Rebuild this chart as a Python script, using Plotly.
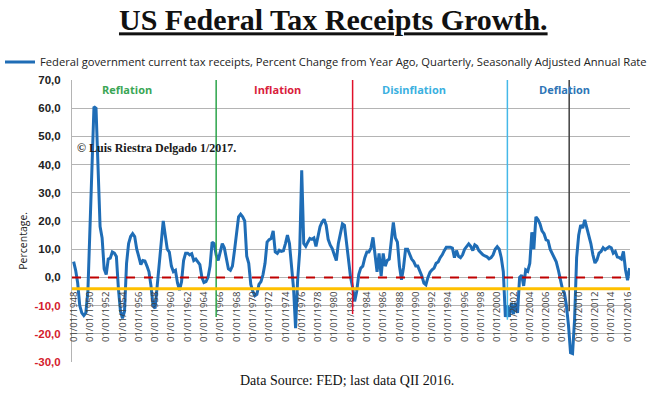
import pandas as pd
import plotly.graph_objects as go

# Quarterly values, 1948Q1 .. 2016Q2 (percent change from year ago)
start_date = "1948-01-01"
values = [
    5.6, 2.5, -2.0, -10.0,      # 1948
    -12.6, -13.5, -12.6, -5.0,  # 1949
    17.0, 40.0, 60.5, 60.0,     # 1950
    35.0, 18.0, 14.0, 3.0,      # 1951
    1.0, 6.5, 6.8, 9.0,         # 1952
    8.6, 7.4, -4.0, -12.0,      # 1953
    -14.5, -12.0, 5.0, 12.0,    # 1954
    14.5, 15.5, 14.5, 10.0,     # 1955
    7.4, 4.5, 6.0, 5.8,         # 1956
    4.0, 2.0, -3.0, -10.0,      # 1957
    -11.0, -3.0, 4.0, 14.5,     # 1958
    20.0, 15.0, 10.0, 9.0,      # 1959
    4.0, 2.0, 2.5, -2.0,        # 1960
    -4.5, -1.5, 6.0, 8.6,       # 1961
    8.6, 8.0, 8.4, 6.0,         # 1962
    6.5, 5.5, 4.5, 0.0,         # 1963
    -1.8, -1.5, 0.0, 4.0,       # 1964
    12.5, 12.0, 8.0, 6.0,       # 1965
    9.6, 12.0, 10.5, 7.0,       # 1966
    3.0, 2.5, 4.0, 9.5,         # 1967
    16.0, 21.5, 22.4, 21.5,     # 1968
    20.0, 7.5, 5.0, -2.5,       # 1969
    -5.0, -6.5, -6.0, -2.5,     # 1970
    -1.5, 1.0, 5.0, 12.5,       # 1971
    13.4, 13.8, 16.5, 9.0,      # 1972
    8.5, 9.6, 9.2, 9.4,         # 1973
    12.0, 15.0, 12.0, 5.0,      # 1974
    -4.0, -18.0, -1.0, 9.0,     # 1975
    38.0, 12.0, 11.0, 12.5,     # 1976
    13.8, 13.5, 14.0, 11.0,     # 1977
    14.0, 18.0, 19.6, 20.6,     # 1978
    18.5, 13.5, 11.5, 10.2,     # 1979
    8.0, 6.0, 12.0, 16.0,       # 1980
    19.0, 18.5, 12.0, 5.0,      # 1981
    0.0, -3.5, -8.5, -5.0,      # 1982
    1.0, 3.3, 4.0, 7.0,         # 1983
    9.0, 9.0, 10.4, 14.2,       # 1984
    9.0, 2.0, 8.5, 0.5,         # 1985
    8.5, 4.0, 6.0, 6.5,         # 1986
    13.0, 19.5, 14.0, 12.5,     # 1987
    4.0, -0.8, 3.5, 10.0,       # 1988
    10.0, 8.5, 6.5, 5.6,        # 1989
    4.0, 4.0, 2.5, 0.5,         # 1990
    -2.0, -2.6, 0.0, 1.8,       # 1991
    2.7, 3.3, 5.0, 5.5,         # 1992
    7.0, 8.0, 9.5, 10.7,        # 1993
    10.7, 10.7, 10.4, 7.0,      # 1994
    9.5, 7.5, 7.0, 8.0,         # 1995
    10.0, 10.9, 11.9, 11.0,     # 1996
    9.5, 11.5, 11.0, 9.5,       # 1997
    8.6, 8.0, 7.6, 7.3,         # 1998
    6.6, 7.0, 8.0, 10.0,        # 1999
    10.9, 10.0, 7.0, 2.0,       # 2000
    -14.0, -10.0, -14.0, -9.0,  # 2001
    -13.0, -9.0, -12.6, 0.0,    # 2002
    0.8, -3.0, 2.7, 2.2,        # 2003
    5.0, 16.0, 10.0, 21.5,      # 2004
    20.5, 19.0, 16.5, 15.5,     # 2005
    13.3, 13.0, 10.0, 8.6,      # 2006
    7.4, 5.5, 2.7, -0.8,        # 2007
    -4.0, -5.5, -10.0, -17.0,   # 2008
    -26.7, -27.0, -15.0, 7.0,   # 2009
    15.0, 18.6, 17.5, 20.4,     # 2010
    17.5, 15.0, 12.0, 8.0,      # 2011
    5.1, 6.2, 8.6, 9.2,         # 2012
    10.5, 9.8, 10.4, 10.9,      # 2013
    10.5, 8.6, 9.2, 7.2,        # 2014
    7.0, 6.5, 9.2, 2.7,         # 2015
    -1.0, 3.3,                  # 2016
]
dates = pd.date_range(start_date, periods=len(values), freq="QS")

tick_years = list(range(1948, 2017, 2))
tick_dates = [f"{y}-01-01" for y in tick_years]
tick_labels = [f"01/01/{y}" for y in tick_years]

y_tick_vals = [70, 60, 50, 40, 30, 20, 10, 0, -10, -20, -30]
y_tick_text = ["70,0", "60,0", "50,0", "40,0", "30,0", "20,0", "10,0", "0,0", "-10,0", "-20,0", "-30,0"]

phase_names = ["Reflation", "Inflation", "Disinflation", "Deflation"]
phase_label_dates = ["1954-07-01", "1973-01-01", "1989-10-01", "2008-04-01"]
phase_text_colors = ["#3aa655", "#d9213b", "#3ab0e0", "#2e75b6"]
divider_dates = ["1965-07-01", "1982-04-01", "2001-04-01", "2008-11-01"]
divider_colors = ["#2ca44a", "#e0102a", "#45b8e8", "#404040"]
divider_bottoms = [-14, -13, -15, -12]

zero_level = 0
axis_level = -4

series_name = ("Federal government current tax receipts, Percent Change from Year Ago, "
               "Quarterly, Seasonally Adjusted Annual Rate")

fig = go.Figure()
fig.add_trace(go.Scatter(
    x=dates, y=values, mode="lines", name=series_name,
    line=dict(color="#1f6db6", width=3),
))

def ytext(v, t):
    if v < 0:
        return f"<b><span style='color:#d4202c'>{t}</span></b>"
    return f"<b>{t}</b>"

shapes = []
for d, c, b in zip(divider_dates, divider_colors, divider_bottoms):
    shapes.append(dict(type="line", xref="x", yref="y", x0=d, x1=d, y0=b, y1=70,
                       line=dict(color=c, width=1.5)))
shapes.append(dict(type="line", xref="paper", yref="y", x0=0, x1=1, y0=zero_level, y1=zero_level,
                   line=dict(color="#c00000", width=2, dash="dash")))
shapes.append(dict(type="line", xref="paper", yref="y", x0=0, x1=1, y0=axis_level, y1=axis_level,
                   line=dict(color="#ffc000", width=3)))

annotations = []
for n, d, c in zip(phase_names, phase_label_dates, phase_text_colors):
    annotations.append(dict(x=d, y=66.5, xref="x", yref="y", text=f"<b>{n}</b>",
                            showarrow=False, font=dict(family="Open Sans", size=11, color=c)))
annotations.append(dict(x=0.005, y=46.0, xref="paper", yref="y", xanchor="left",
                        text="<b>© Luis Riestra Delgado 1/2017.</b>", showarrow=False,
                        font=dict(family="Liberation Serif", size=12, color="#1a1a1a")))
annotations.append(dict(x=0.493, y=-0.065, xref="paper", yref="paper", yanchor="middle",
                        text="Data Source: FED; last data QII 2016.", showarrow=False,
                        font=dict(family="Liberation Serif", size=14, color="#111111")))
annotations.append(dict(x=-0.104, y=0.43, xref="paper", yref="paper",
                        text="Percentage.", textangle=-90, showarrow=False,
                        font=dict(family="Open Sans", size=10.5, color="#222222")))

fig.update_layout(
    width=660, height=397,
    margin=dict(l=72, r=30, t=80, b=35),
    paper_bgcolor="white", plot_bgcolor="white",
    separators=",.",
    title=dict(text="<b><u>US Federal Tax Receipts Growth.</u></b>",
               x=0.505, xref="container", xanchor="center",
               y=0.95, yref="container", yanchor="middle",
               font=dict(family="Liberation Serif", size=30, color="#111111")),
    showlegend=True,
    legend=dict(orientation="h", xref="container", yref="container", x=0.0, y=1 - 62 / 397,
                xanchor="left", yanchor="middle", bgcolor="rgba(0,0,0,0)",
                font=dict(family="Open Sans", size=11.2, color="#222222"),
                itemwidth=30),
    xaxis=dict(type="date", range=["1947-10-20", "2016-04-20"],
               tickvals=tick_dates, ticktext=tick_labels, tickangle=-90,
               tickfont=dict(family="Open Sans", size=9.5, color="#404040"),
               showgrid=False, zeroline=False, showline=False, automargin=False,
               anchor="free", position=0.26, ticks=""),
    yaxis=dict(range=[-30, 70], tickvals=y_tick_vals,
               ticktext=[ytext(v, t) for v, t in zip(y_tick_vals, y_tick_text)],
               tickfont=dict(family="Liberation Sans", size=11.5, color="#222222"),
               showgrid=True, gridcolor="#b4b4b4", gridwidth=1, automargin=False,
               zeroline=False, showline=True, linecolor="#b4b4b4", linewidth=1,
               ticklabelstandoff=8),
    shapes=shapes,
    annotations=annotations,
)

fig.write_html("out.html", config={"displayModeBar": False},
               post_script="document.body.style.margin='0px';")
